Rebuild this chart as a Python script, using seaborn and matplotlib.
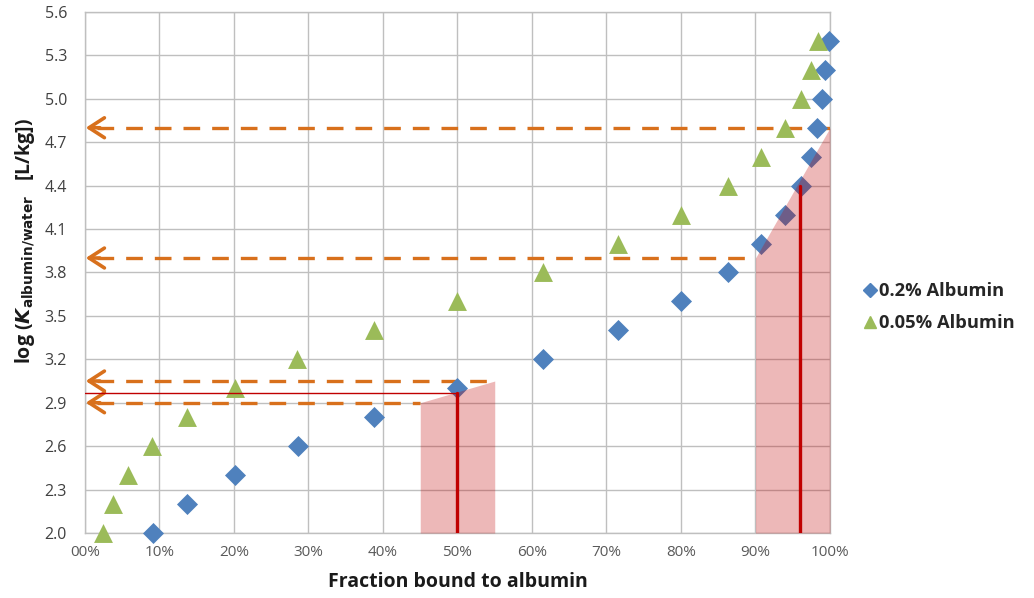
import matplotlib
matplotlib.use("Agg")
import matplotlib.pyplot as plt
import seaborn as sns
import pandas as pd
import numpy as np
from matplotlib.lines import Line2D

# ---- data ----
logk_02 = [2.0, 2.2, 2.4, 2.6, 2.8, 3.0, 3.2, 3.4, 3.6, 3.8, 4.0, 4.2, 4.4, 4.6, 4.8, 5.0, 5.2, 5.4]
frac_02 = [9.1, 13.7, 20.1, 28.6, 38.8, 50.0, 61.5, 71.6, 80.0, 86.3, 90.8, 94.0, 96.1, 97.4, 98.3, 98.9, 99.3, 99.8]
logk_005 = [2.0, 2.2, 2.4, 2.6, 2.8, 3.0, 3.2, 3.4, 3.6, 3.8, 4.0, 4.2, 4.4, 4.6, 4.8, 5.0, 5.2, 5.4]
frac_005 = [2.4, 3.7, 5.8, 9.0, 13.7, 20.1, 28.5, 38.8, 50.0, 61.5, 71.6, 80.0, 86.3, 90.8, 94.0, 96.1, 97.4, 98.4]
series_names = ["0.2% Albumin", "0.05% Albumin"]

# guide arrows: (log K level, x end in %)
arrow_levels = [4.8, 3.9, 3.05, 2.9]
arrow_ends = [100, 90, 55, 45]
# shaded bands: x range and top values
band1_x = [45, 55]
band1_top = [2.9, 3.05]
band2_x = [90, 100]
band2_top = [3.9, 4.8]
# red marker lines
red_v_x = [50, 96]
red_v_top = [2.97, 4.4]
red_h_level = 2.97

x_ticks = [0, 10, 20, 30, 40, 50, 60, 70, 80, 90, 100]
x_tick_labels = ["00%", "10%", "20%", "30%", "40%", "50%", "60%", "70%", "80%", "90%", "100%"]
y_ticks = [2.0, 2.3, 2.6, 2.9, 3.2, 3.5, 3.8, 4.1, 4.4, 4.7, 5.0, 5.3, 5.6]

blue = "#4F81BD"
green = "#9BBB59"
orange = "#D8701C"
red = "#C00000"

sns.set_style("white")
plt.rcParams["font.family"] = ["Open Sans", "DejaVu Sans"]

df02 = pd.DataFrame({"frac": frac_02, "logk": logk_02})
df005 = pd.DataFrame({"frac": frac_005, "logk": logk_005})

fig = plt.figure(figsize=(10.34, 5.98), dpi=100)
ax = fig.add_axes([0.0822, 0.1087, 0.7205, 0.8713])

sns.scatterplot(data=df02, x="frac", y="logk", marker="D", color=blue,
                s=115, linewidth=0, ax=ax, zorder=4, clip_on=False, legend=False)
sns.scatterplot(data=df005, x="frac", y="logk", marker="^", color=green,
                s=185, linewidth=0, ax=ax, zorder=4, clip_on=False, legend=False)

# dashed guide arrows
for lvl, xe in zip(arrow_levels, arrow_ends):
    ax.plot([1.6, xe], [lvl, lvl], color=orange, lw=2.4, dashes=(5, 3.6),
            zorder=3, dash_capstyle="butt")
    ax.annotate("", xy=(0.1, lvl), xytext=(2.0, lvl),
                arrowprops=dict(arrowstyle="->,head_length=0.85,head_width=0.55",
                                color=orange, lw=2.6, shrinkA=0, shrinkB=0,
                                mutation_scale=13),
                zorder=3)

# shaded bands (over the markers, semi transparent)
ax.fill_between(band1_x, band1_top, 2.0, color=red, alpha=0.28, lw=0, zorder=5)
ax.fill_between(band2_x, band2_top, 2.0, color=red, alpha=0.28, lw=0, zorder=5)

# red lines
ax.plot([0, red_v_x[0]], [red_h_level, red_h_level], color=red, lw=1.0, zorder=6)
for xv, yt in zip(red_v_x, red_v_top):
    ax.plot([xv, xv], [2.0, yt], color=red, lw=2.4, zorder=6)

ax.set_xlim(0, 100)
ax.set_ylim(2.0, 5.6)
ax.set_xticks(x_ticks)
ax.set_xticklabels(x_tick_labels)
ax.set_yticks(y_ticks)
ax.set_yticklabels([f"{v:.1f}" for v in y_ticks])
ax.grid(True, color="#BFBFBF", lw=1.0, zorder=0)
ax.set_axisbelow(True)
for sp in ax.spines.values():
    sp.set_color("#BFBFBF")
    sp.set_linewidth(1.0)
ax.tick_params(axis="x", length=5, width=1.0, color="#BFBFBF",
               labelsize=11, labelcolor="#595959", pad=4)
ax.tick_params(axis="y", length=5, width=1.0, color="#BFBFBF",
               labelsize=11.5, labelcolor="#404040", pad=8)

ax.set_xlabel("Fraction bound to albumin", fontsize=14, fontweight="bold",
              color="#1a1a1a", labelpad=8)
ax.set_ylabel(r"log ($\mathbfit{K}_{\mathbf{albumin/water}}$   [L/kg])", fontsize=14,
              fontweight="bold", color="#1a1a1a")
ax.yaxis.set_label_coords(-0.064, 0.56)

# legend
handles = [Line2D([], [], ls="", marker="D", color=blue, markersize=7),
           Line2D([], [], ls="", marker="^", color=green, markersize=8.5)]
leg = fig.legend(handles, series_names, loc="center left", bbox_to_anchor=(0.82, 0.486),
                 frameon=False, handlelength=0.6, handletextpad=0.2, labelspacing=0.75,
                 prop={"weight": "bold", "size": 13.2})

fig.savefig("out.png", dpi=100)
